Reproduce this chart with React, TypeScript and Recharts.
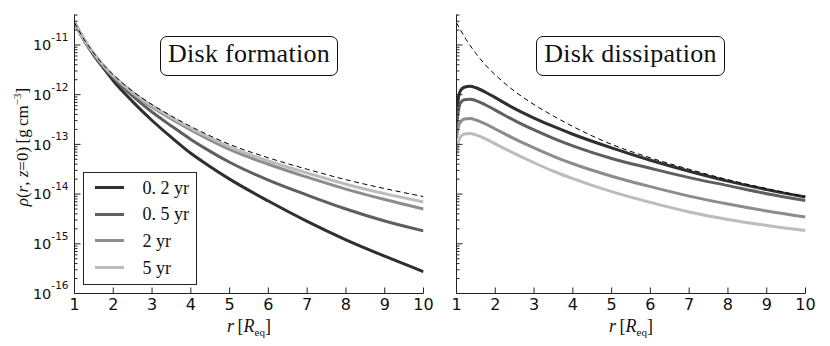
import React from 'react';
import { LineChart, Line, XAxis, YAxis } from 'recharts';

// ---------- data ----------
const rForm = [1, 1.25, 1.5, 1.75, 2, 2.5, 3, 3.5, 4, 4.5, 5, 6, 7, 8, 9, 10];
const steady = [2.8e-11, 1.28e-11, 6.78e-12, 3.94e-12, 2.51e-12, 1.17e-12, 6.31e-13, 3.72e-13, 2.29e-13, 1.48e-13, 1.0e-13, 5.37e-14, 3.16e-14, 1.95e-14, 1.29e-14, 8.91e-15];
const form02 = [2.8e-11, 1.23e-11, 6.17e-12, 3.39e-12, 1.91e-12, 7.24e-13, 3.02e-13, 1.38e-13, 6.61e-14, 3.55e-14, 2.0e-14, 7.24e-15, 2.82e-15, 1.2e-15, 5.62e-16, 2.75e-16];
const form05 = [2.8e-11, 1.25e-11, 6.47e-12, 3.6e-12, 2.19e-12, 9.33e-13, 4.47e-13, 2.34e-13, 1.26e-13, 7.24e-14, 4.37e-14, 1.91e-14, 9.55e-15, 5.01e-15, 2.88e-15, 1.82e-15];
const form2 = [2.8e-11, 1.28e-11, 6.62e-12, 3.77e-12, 2.34e-12, 1.07e-12, 5.62e-13, 3.24e-13, 1.95e-13, 1.22e-13, 7.94e-14, 3.98e-14, 2.19e-14, 1.26e-14, 7.76e-15, 5.01e-15];
const form5 = [2.8e-11, 1.28e-11, 6.78e-12, 3.85e-12, 2.43e-12, 1.12e-12, 5.96e-13, 3.47e-13, 2.11e-13, 1.35e-13, 8.91e-14, 4.62e-14, 2.66e-14, 1.58e-14, 1.02e-14, 6.92e-15];

const rDiss = [1, 1.05, 1.1, 1.2, 1.35, 1.5, 1.75, 2, 2.5, 3, 3.5, 4, 5, 6, 7, 8, 9, 10];
const diss02 = [3.5e-13, 8.9e-13, 1.2e-12, 1.41e-12, 1.48e-12, 1.38e-12, 1.12e-12, 8.7e-13, 5.25e-13, 3.39e-13, 2.29e-13, 1.6e-13, 8.5e-14, 4.8e-14, 2.88e-14, 1.82e-14, 1.23e-14, 8.7e-15];
const diss05 = [2.24e-13, 4.8e-13, 6.8e-13, 7.9e-13, 8.1e-13, 7.6e-13, 6.2e-13, 4.9e-13, 3.0e-13, 1.95e-13, 1.32e-13, 9.3e-14, 5.2e-14, 3.3e-14, 2.14e-14, 1.48e-14, 1.02e-14, 7.4e-15];
const diss2 = [1.32e-13, 2.3e-13, 2.8e-13, 3.24e-13, 3.3e-13, 3.1e-13, 2.57e-13, 2.04e-13, 1.29e-13, 8.5e-14, 5.75e-14, 4.07e-14, 2.29e-14, 1.41e-14, 9.1e-15, 6.3e-15, 4.57e-15, 3.47e-15];
const diss5 = [6.3e-14, 1.12e-13, 1.41e-13, 1.62e-13, 1.66e-13, 1.55e-13, 1.29e-13, 1.02e-13, 6.5e-14, 4.27e-14, 2.88e-14, 2.04e-14, 1.12e-14, 6.8e-15, 4.37e-15, 3.09e-15, 2.34e-15, 1.86e-15];

const seriesNames = ['0. 2 yr', '0. 5 yr', '2 yr', '5 yr'];
const seriesColors = ['#2f2f2f', '#5f5f5f', '#8c8c8c', '#bcbcbc'];
const panelTitles = ['Disk formation', 'Disk dissipation'];

const xTicks = [1, 2, 3, 4, 5, 6, 7, 8, 9, 10];
const yTicks = [
  1e-16, 2e-16, 3e-16, 4e-16, 5e-16, 6e-16, 7e-16, 8e-16, 9e-16,
  1e-15, 2e-15, 3e-15, 4e-15, 5e-15, 6e-15, 7e-15, 8e-15, 9e-15,
  1e-14, 2e-14, 3e-14, 4e-14, 5e-14, 6e-14, 7e-14, 8e-14, 9e-14,
  1e-13, 2e-13, 3e-13, 4e-13, 5e-13, 6e-13, 7e-13, 8e-13, 9e-13,
  1e-12, 2e-12, 3e-12, 4e-12, 5e-12, 6e-12, 7e-12, 8e-12, 9e-12,
  1e-11, 2e-11, 3e-11, 4e-11,
];
const yDomain = [1e-16, 4.1e-11];

// ---------- helpers ----------
const FRAME = '#222';
const SANS = '"DejaVu Sans", sans-serif';
const SERIF = '"Liberation Serif", "DejaVu Serif", serif';

const toData = (rs: number[], vs: number[]) => rs.map((r, i) => ({ r, v: vs[i] }));
const isMajor = (v: number) => Math.abs(Math.log10(v) - Math.round(Math.log10(v))) < 1e-6;

const LeftTick = (showLabel: boolean) => (props: any) => {
  const { x, y, payload } = props;
  const v = payload.value;
  const major = isMajor(v);
  const len = major ? 6 : 3;
  return (
    <g>
      <line x1={x} x2={x + len} y1={y} y2={y} stroke={FRAME} strokeWidth={1} />
      {showLabel && major && (
        <text x={x - 6} y={y + 5.2} textAnchor="end" fontFamily={SANS} fontSize={14.5} fill="#111">
          10<tspan dy={-9.3} fontSize={10.5}>{String(Math.round(Math.log10(v)))}</tspan>
        </text>
      )}
    </g>
  );
};
const RightTick = (props: any) => {
  const { x, y, payload } = props;
  const len = isMajor(payload.value) ? 6 : 3;
  return <line x1={x} x2={x - len} y1={y} y2={y} stroke={FRAME} strokeWidth={1} />;
};
const BottomTick = (props: any) => {
  const { x, y, payload } = props;
  return (
    <g>
      <line x1={x} x2={x} y1={y} y2={y - 6} stroke={FRAME} strokeWidth={1} />
      <text x={x} y={y + 16.5} textAnchor="middle" fontFamily={SANS} fontSize={16} fill="#111">
        {payload.value}
      </text>
    </g>
  );
};
const TopTick = (props: any) => {
  const { x, y } = props;
  return <line x1={x} x2={x} y1={y} y2={y + 6} stroke={FRAME} strokeWidth={1} />;
};

type PanelProps = {
  left: number;
  width: number;
  marginLeft: number;
  marginRight: number;
  yAxisWidth: number;
  showYLabels: boolean;
  lines: { rs: number[]; vs: number[] }[];
};

function Panel({ left, width, marginLeft, marginRight, yAxisWidth, showYLabels, lines }: PanelProps) {
  const axisLine = { stroke: FRAME, strokeWidth: 1 };
  return (
    <div style={{ position: 'absolute', left, top: 0 }}>
      <LineChart width={width} height={346} margin={{ top: 14.5, right: marginRight, bottom: 22.5, left: marginLeft }}>
        <XAxis xAxisId="b" dataKey="r" type="number" domain={[1, 10]} ticks={xTicks} interval={0}
          tickSize={0} tickMargin={0} tickLine={false} axisLine={axisLine} tick={BottomTick} height={30} allowDataOverflow />
        <XAxis xAxisId="t" orientation="top" dataKey="r" type="number" domain={[1, 10]} ticks={xTicks} interval={0}
          tickSize={0} tickMargin={0} tickLine={false} axisLine={axisLine} tick={TopTick} height={0} allowDataOverflow />
        <YAxis yAxisId="l" type="number" scale="log" domain={yDomain} ticks={yTicks} interval={0}
          tickSize={0} tickMargin={0} tickLine={false} axisLine={axisLine} tick={LeftTick(showYLabels)} width={yAxisWidth} allowDataOverflow />
        <YAxis yAxisId="r" orientation="right" type="number" scale="log" domain={yDomain} ticks={yTicks} interval={0}
          tickSize={0} tickMargin={0} tickLine={false} axisLine={axisLine} tick={RightTick} width={0} allowDataOverflow />
        {lines.slice(1).map((ln, i) => (
          <Line key={i} xAxisId="b" yAxisId="l" data={toData(ln.rs, ln.vs)} dataKey="v" type="monotone"
            stroke={seriesColors[i]} strokeWidth={3} dot={false} isAnimationActive={false} />
        ))}
        <Line xAxisId="b" yAxisId="l" data={toData(lines[0].rs, lines[0].vs)} dataKey="v" type="monotone"
          stroke="#000" strokeWidth={1} strokeDasharray="5 3.5" dot={false} isAnimationActive={false} />
      </LineChart>
    </div>
  );
}

const TitleBox = ({ text, left, width }: { text: string; left: number; width: number }) => (
  <div style={{
    position: 'absolute', left, top: 36, width, height: 40, boxSizing: 'border-box',
    border: '1px solid #111', borderRadius: 7, background: '#fff',
    display: 'flex', alignItems: 'center', justifyContent: 'center', paddingBottom: 4,
    fontFamily: SERIF, fontSize: 26, letterSpacing: 0.27, color: '#111', whiteSpace: 'nowrap',
  }}>{text}</div>
);

const XTitle = ({ cx }: { cx: number }) => (
  <div style={{
    position: 'absolute', left: cx, top: 326.5, transform: 'translate(-50%, -50%)',
    fontFamily: SERIF, fontSize: 18, color: '#111', whiteSpace: 'nowrap',
  }}>
    <i>r</i>&thinsp;[<i>R</i><sub style={{ fontSize: 11 }}>eq</sub>]
  </div>
);

export default function App() {
  return (
    <div style={{ position: 'absolute', left: 0, top: 0, width: 830, height: 346, background: '#fff', overflow: 'hidden' }}>
      <Panel left={0} width={440} marginLeft={0.5} marginRight={16.5} yAxisWidth={74} showYLabels
        lines={[{ rs: rForm, vs: steady }, { rs: rForm, vs: form02 }, { rs: rForm, vs: form05 }, { rs: rForm, vs: form2 }, { rs: rForm, vs: form5 }]} />
      <Panel left={440} width={390} marginLeft={0.5} marginRight={24.5} yAxisWidth={16} showYLabels={false}
        lines={[{ rs: rForm, vs: steady }, { rs: rDiss, vs: diss02 }, { rs: rDiss, vs: diss05 }, { rs: rDiss, vs: diss2 }, { rs: rDiss, vs: diss5 }]} />

      <TitleBox text={panelTitles[0]} left={160} width={178} />
      <TitleBox text={panelTitles[1]} left={536} width={189} />

      {/* legend */}
      <div style={{
        position: 'absolute', left: 83, top: 171.5, width: 114, height: 113, boxSizing: 'border-box',
        border: '1px solid #222', background: '#fff',
      }}>
        {seriesNames.map((name, i) => (
          <div key={name} style={{ position: 'absolute', left: 0, top: 15 + i * 26.7, width: '100%' }}>
            <div style={{ position: 'absolute', left: 11, top: -1.5, width: 29, height: 3, background: seriesColors[i] }} />
            <div style={{
              position: 'absolute', left: 58.5, top: 0, transform: 'translateY(-50%)',
              fontFamily: SERIF, fontSize: 18, color: '#111', whiteSpace: 'nowrap', lineHeight: '20px',
            }}>{name}</div>
          </div>
        ))}
      </div>

      {/* y title */}
      <div style={{
        position: 'absolute', left: 21.5, top: 147, transform: 'translate(-50%, -50%) rotate(-90deg)',
        fontFamily: SERIF, fontSize: 17, color: '#111', whiteSpace: 'nowrap',
      }}>
        <i>ρ</i>(<i>r</i>, <i>z</i>=0)&thinsp;[g&thinsp;cm<sup style={{ fontSize: 11 }}>−3</sup>]
      </div>

      <XTitle cx={249} />
      <XTitle cx={631} />
    </div>
  );
}
